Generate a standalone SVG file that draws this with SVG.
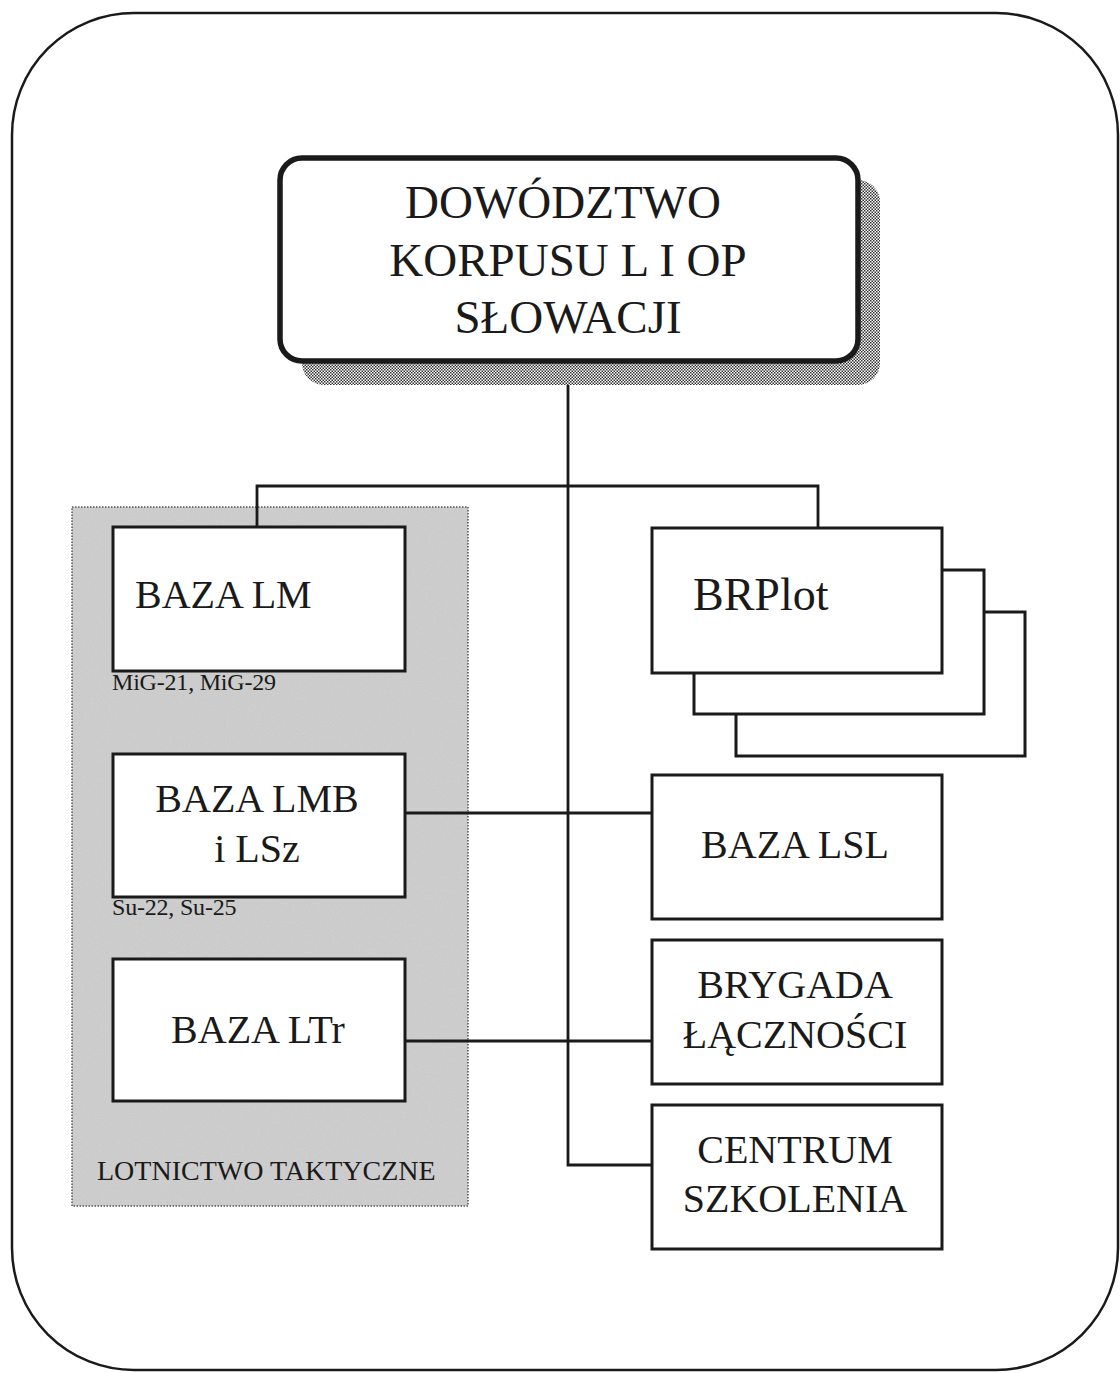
<svg xmlns="http://www.w3.org/2000/svg" width="1120" height="1373" viewBox="0 0 1120 1373">
<defs>
<pattern id="chk" width="3" height="3" patternUnits="userSpaceOnUse">
<rect width="3" height="3" fill="#ffffff"/>
<rect x="0" y="0" width="1.5" height="1.5" fill="#333"/>
<rect x="1.5" y="1.5" width="1.5" height="1.5" fill="#333"/>
</pattern>
<filter id="grain" x="0" y="0" width="1" height="1">
<feTurbulence type="fractalNoise" baseFrequency="0.9" numOctaves="2" seed="3" result="n"/>
<feColorMatrix in="n" type="matrix" values="0 0 0 0 0.7  0 0 0 0 0.7  0 0 0 0 0.7  0 0 0 0.5 0" result="g"/>
<feComposite in="g" in2="SourceGraphic" operator="in" result="gm"/>
<feMerge><feMergeNode in="SourceGraphic"/><feMergeNode in="gm"/></feMerge>
</filter>
</defs>
<style>
.t{font-family:"Liberation Serif","Times New Roman",serif;fill:#1a1a1a;}
.box{fill:#fff;stroke:#1a1a1a;stroke-width:3;}
.conn{fill:none;stroke:#1a1a1a;stroke-width:2.8;}
</style>
<rect x="0" y="0" width="1120" height="1373" fill="#fff"/>
<rect id="frame" x="12" y="13" width="1106" height="1357" rx="122" ry="122" fill="#fff" stroke="#1a1a1a" stroke-width="2.5"/>

<g id="group-lotnictwo">
<rect x="72" y="507" width="396" height="699" fill="#c8c8c8" filter="url(#grain)"/>
<rect x="72" y="507" width="396" height="699" fill="none" stroke="#555" stroke-width="1.5" stroke-dasharray="1.5 1.5"/>
<text class="t" x="97" y="1180" font-size="28">LOTNICTWO TAKTYCZNE</text>
</g>

<g id="connectors">
<path class="conn" d="M568 360 V1165 H652"/>
<path class="conn" d="M257 527 V486 H818 V528"/>
<path class="conn" d="M405 813 H652"/>
<path class="conn" d="M405 1041 H652"/>
</g>

<g id="dowodztwo">
<rect x="302" y="180" width="578" height="205" rx="22" ry="22" fill="url(#chk)"/>
<rect x="280" y="158" width="578" height="203" rx="22" ry="22" fill="#fff" stroke="#1a1a1a" stroke-width="5.5"/>
<text class="t" x="563" y="218" font-size="47" text-anchor="middle">DOWÓDZTWO</text>
<text class="t" x="568" y="276" font-size="47" text-anchor="middle">KORPUSU L I OP</text>
<text class="t" x="568" y="333" font-size="47" text-anchor="middle">SŁOWACJI</text>
</g>

<g id="baza-lm">
<rect class="box" x="113" y="527" width="292" height="144"/>
<text class="t" x="135" y="608" font-size="40">BAZA LM</text>
<text class="t" x="112" y="690" font-size="24" letter-spacing="-0.2">MiG-21, MiG-29</text>
</g>

<g id="baza-lmb">
<rect class="box" x="113" y="754" width="292" height="143"/>
<text class="t" x="257" y="812" font-size="40" text-anchor="middle">BAZA LMB</text>
<text class="t" x="257" y="862" font-size="40" text-anchor="middle">i LSz</text>
<text class="t" x="112" y="915" font-size="24" letter-spacing="-0.2">Su-22, Su-25</text>
</g>

<g id="baza-ltr">
<rect class="box" x="113" y="959" width="292" height="142"/>
<text class="t" x="258" y="1043" font-size="40" text-anchor="middle">BAZA LTr</text>
</g>

<g id="brplot">
<rect class="box" x="736" y="612" width="289" height="144"/>
<rect class="box" x="694" y="570" width="290" height="144"/>
<rect class="box" x="652" y="528" width="290" height="145"/>
<text class="t" x="693" y="610" font-size="46">BRPlot</text>
</g>

<g id="baza-lsl">
<rect class="box" x="652" y="775" width="290" height="144"/>
<text class="t" x="795" y="858" font-size="40" text-anchor="middle">BAZA LSL</text>
</g>

<g id="brygada">
<rect class="box" x="652" y="940" width="290" height="144"/>
<text class="t" x="795" y="998" font-size="40" text-anchor="middle">BRYGADA</text>
<text class="t" x="795" y="1048" font-size="40" text-anchor="middle">ŁĄCZNOŚCI</text>
</g>

<g id="centrum">
<rect class="box" x="652" y="1105" width="290" height="144"/>
<text class="t" x="795" y="1163" font-size="40" text-anchor="middle">CENTRUM</text>
<text class="t" x="795" y="1212" font-size="40" text-anchor="middle">SZKOLENIA</text>
</g>
</svg>
